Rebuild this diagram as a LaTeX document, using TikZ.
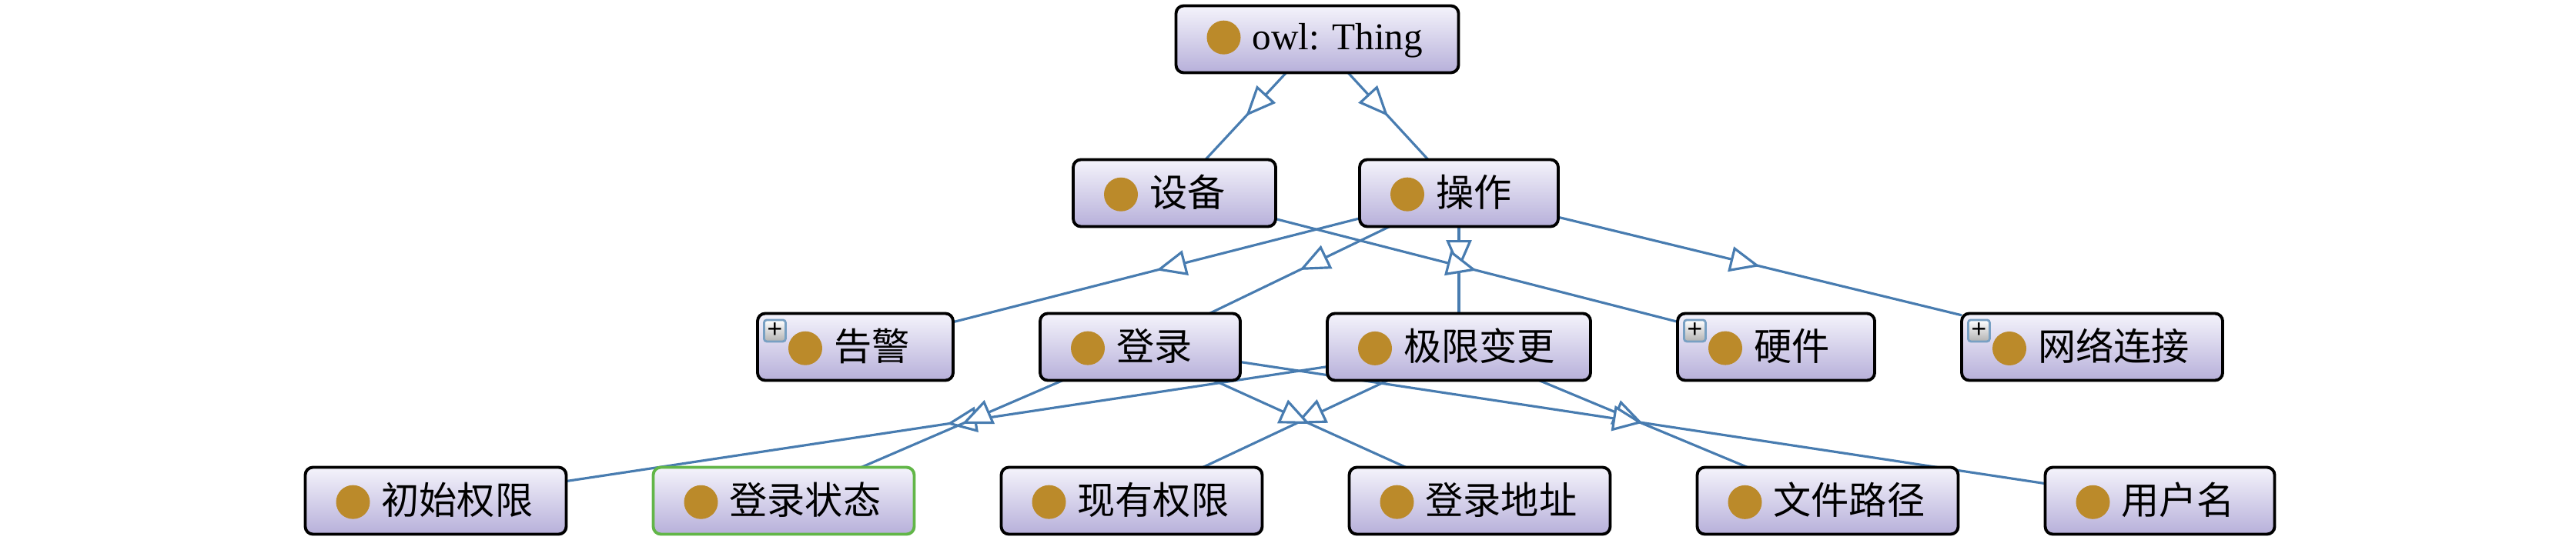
\documentclass[tikz,border=0pt]{standalone}
\usepackage{fontspec}
\setmainfont{Liberation Serif}
\newfontfamily\cjk{Noto Sans CJK SC}
\usetikzlibrary{positioning,backgrounds,arrows.meta,decorations.markings}

\definecolor{boxtop}{RGB}{244,243,251}
\definecolor{boxbot}{RGB}{183,176,218}
\definecolor{dotgold}{RGB}{187,138,42}
\definecolor{linkblue}{RGB}{72,124,176}
\definecolor{selgreen}{RGB}{98,182,72}
\definecolor{plusrim}{RGB}{120,160,195}

% class marker in front of every label
\newcommand{\clsdot}{\tikz[baseline={(0,-0.16)}]\fill[dotgold] (0,0) circle (0.22);\hspace{0.15cm}}

\begin{document}
\frenchspacing
\begin{tikzpicture}[%
    node distance=1.13cm,       % same gap between boxes and between rows
    ]

\tikzset{
    cls/.style={draw, line width=1.1pt, rounded corners=0.1cm, top color=boxtop, bottom color=boxbot,
        minimum height=0.87cm, inner xsep=0.4cm, inner ysep=0pt, outer sep=0pt, align=left, text width=#1,
        font={\cjk\fontsize{14}{16}\selectfont}},
    sel/.style={cls=#1, draw=selgreen},
    plusbox/.style={draw=plusrim, line width=0.8pt, rounded corners=1pt, top color=white, bottom color=gray!60,
        minimum size=0.28cm, inner sep=0pt, font={\bfseries\fontsize{10}{10}\selectfont}},
    % subclass links, open triangle half way
    isa/.style={draw=linkblue, line width=0.9pt, postaction={decorate},
        decoration={markings, mark=at position 0.5 with {\arrow{Triangle[length=3.9mm, width=3.3mm, fill=white, line width=0.9pt]}}}},
}

\useasboundingbox (0,0) rectangle (33.46,7.01);

%% Root
\node [cls=2.87cm, font=\fontsize{14}{16}\selectfont] (thing) at (17.11,6.5) {\clsdot owl: Thing};

%% Leaves
\node [cls=2.59cm] (cs) at (5.66,0.5) {\clsdot 初始权限};
\node [sel=2.59cm, right=of cs] (zt) {\clsdot 登录状态};
\node [cls=2.59cm, right=of zt] (xy) {\clsdot 现有权限};
\node [cls=2.59cm, right=of xy] (dz) {\clsdot 登录地址};
\node [cls=2.59cm, right=of dz] (lj) {\clsdot 文件路径};
\node [cls=2.18cm, right=of lj] (yh) {\clsdot 用户名};

%% Third row
\node [cls=1.74cm] (gj) at (11.11,2.5) {\clsdot 告警};
\node [cls=1.8cm, right=of gj] (dl) {\clsdot 登录};
\node [cls=2.62cm, right=of dl] (qx) {\clsdot 极限变更};
\node [cls=1.76cm, right=of qx] (yj) {\clsdot 硬件};
\node [cls=2.59cm, right=of yj] (wl) {\clsdot 网络连接};
    \node [plusbox, below right=0.07cm and 0.07cm of gj.north west] (gjplus) {+};
    \node [plusbox, below right=0.07cm and 0.07cm of yj.north west] (yjplus) {+};
    \node [plusbox, below right=0.07cm and 0.07cm of wl.north west] (wlplus) {+};

%% Second row
\node [cls=1.78cm, above=of qx] (cz) {\clsdot 操作};
\node [cls=1.83cm, left=1.09cm of cz] (sb) {\clsdot 设备};

\begin{scope}[on background layer]
    \draw[isa] (thing) -- (sb);
    \draw[isa] (thing) -- (cz);
    \draw[isa] (cz) -- (gj);
    \draw[isa] (cz) -- (dl);
    \draw[isa] (cz) -- (qx);
    \draw[isa] (sb) -- (yj);
    \draw[isa] (cz) -- (wl);
    \draw[isa] (qx) -- (cs);
    \draw[isa] (dl) -- (zt);
    \draw[isa] (qx) -- (xy);
    \draw[isa] (dl) -- (dz);
    \draw[isa] (qx) -- (lj);
    \draw[isa] (dl) -- (yh);
\end{scope}
\end{tikzpicture}
\end{document}
